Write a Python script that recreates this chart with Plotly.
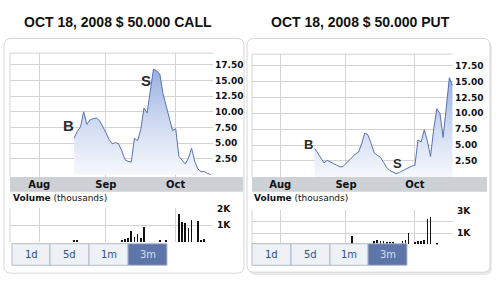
import plotly.graph_objects as go

W, H = 499, 282

# ---------------- data ----------------
call_dates = ["2008-08-18", "2008-08-19", "2008-08-20", "2008-08-21", "2008-08-22",
              "2008-08-25", "2008-08-26", "2008-08-27", "2008-08-28", "2008-08-29",
              "2008-09-01", "2008-09-02", "2008-09-03", "2008-09-04", "2008-09-05",
              "2008-09-08", "2008-09-09", "2008-09-10", "2008-09-11", "2008-09-12",
              "2008-09-15", "2008-09-16", "2008-09-17", "2008-09-18", "2008-09-19",
              "2008-09-22", "2008-09-23", "2008-09-24", "2008-09-25", "2008-09-26",
              "2008-09-29", "2008-09-30", "2008-10-01", "2008-10-02", "2008-10-03",
              "2008-10-06", "2008-10-07", "2008-10-08", "2008-10-09", "2008-10-10",
              "2008-10-13", "2008-10-14", "2008-10-15", "2008-10-16"]
call_price = [5.8, 6.9, 7.6, 10.0, 8.0,
              8.7, 8.9, 9.0, 8.6, 7.7,
              6.7, 5.6, 4.9, 5.1, 4.9,
              3.8, 2.4, 2.1, 2.0, 5.8,
              5.4, 7.2, 10.6, 9.8, 13.5,
              16.8, 16.5, 16.0, 12.9, 11.0,
              9.0, 7.0, 7.3, 2.9, 2.3,
              1.7, 2.6, 4.2, 2.1, 0.9,
              0.45, 0.5, 0.2, 0.02]

put_dates = ["2008-08-18", "2008-08-19", "2008-08-20", "2008-08-21", "2008-08-22",
             "2008-08-25", "2008-08-26", "2008-08-27", "2008-08-28", "2008-08-29",
             "2008-09-01", "2008-09-02", "2008-09-03", "2008-09-04", "2008-09-05",
             "2008-09-08", "2008-09-09", "2008-09-10", "2008-09-11", "2008-09-12",
             "2008-09-15", "2008-09-16", "2008-09-17", "2008-09-18", "2008-09-19",
             "2008-09-22", "2008-09-23", "2008-09-24", "2008-09-25", "2008-09-26",
             "2008-09-29", "2008-09-30", "2008-10-01", "2008-10-02", "2008-10-03",
             "2008-10-06", "2008-10-07", "2008-10-08", "2008-10-09", "2008-10-10",
             "2008-10-13", "2008-10-14", "2008-10-15", "2008-10-16", "2008-10-17"]
put_price = [4.5, 3.7, 3.0, 2.2, 2.6,
             2.4, 2.1, 1.85, 1.6, 1.6,
             2.1, 2.6, 3.1, 3.6, 3.9,
             5.2, 6.9, 6.6, 5.3, 3.8,
             3.4, 3.1, 2.3, 1.5, 1.0,
             0.8, 0.5, 0.7, 0.95, 1.2,
             1.45, 1.7, 1.8, 5.8, 5.5,
             7.4, 5.6, 3.2, 7.5, 10.7,
             10.0, 6.2, 10.8, 15.6, 14.4]

call_vol_dates = ["2008-08-18", "2008-08-19", "2008-09-08", "2008-09-09", "2008-09-10",
                  "2008-09-11", "2008-09-12", "2008-09-15", "2008-09-16", "2008-09-17",
                  "2008-09-24", "2008-09-26", "2008-10-02", "2008-10-03", "2008-10-06",
                  "2008-10-07", "2008-10-08", "2008-10-10", "2008-10-13", "2008-10-14"]
call_vol = [0.05, 0.08, 0.1, 0.15, 0.2,
            0.65, 0.3, 0.45, 0.25, 0.9,
            0.05, 0.05, 1.65, 1.2, 1.1,
            0.85, 1.3, 1.25, 0.1, 0.15]

put_vol_dates = ["2008-09-03", "2008-09-12", "2008-09-15", "2008-09-16", "2008-09-17",
                 "2008-09-18", "2008-09-19", "2008-09-22", "2008-09-25", "2008-09-26",
                 "2008-09-29", "2008-10-01", "2008-10-02", "2008-10-03", "2008-10-06",
                 "2008-10-07", "2008-10-08", "2008-10-10"]
put_vol = [0.7, 0.25, 0.35, 0.3, 0.3,
           0.2, 0.2, 0.2, 0.3, 0.35,
           0.95, 0.2, 0.3, 0.25, 0.35,
           2.2, 2.4, 0.05]

month_ticks = ["2008-08-01", "2008-09-01", "2008-10-01"]
month_labels = ["Aug", "Sep", "Oct"]
price_ticks = [2.5, 5.0, 7.5, 10.0, 12.5, 15.0, 17.5]
call_vol_ticks = [1, 2]
call_vol_labels = ["1K", "2K"]
put_vol_ticks = [1, 2, 3]
put_vol_labels = ["1K", "", "3K"]

titles = ["OCT 18, 2008 $ 50.000 CALL", "OCT 18, 2008 $ 50.000 PUT"]
buttons = ["1d", "5d", "1m", "3m"]

call_marks = [("B", "2008-08-14 06:00", 7.8), ("S", "2008-09-17 12:00", 15.0)]
put_marks = [("B", "2008-08-14 00:00", 5.15), ("S", "2008-09-23 10:00", 2.05)]

# ---------------- helpers ----------------
def xd(l, r):
    return [l / W, r / W]

def yd(t, b):
    return [1 - b / H, 1 - t / H]

def px(x):
    return x / W

def py(y):
    return 1 - y / H

def rrect(x0, y0, x1, y1, r):
    rx, ry = r / W, r / H
    X0, X1, Y0, Y1 = px(x0), px(x1), py(y0), py(y1)
    return (f"M {X0+rx},{Y0} L {X1-rx},{Y0} Q {X1},{Y0} {X1},{Y0-ry} "
            f"L {X1},{Y1+ry} Q {X1},{Y1} {X1-rx},{Y1} L {X0+rx},{Y1} "
            f"Q {X0},{Y1} {X0},{Y1+ry} L {X0},{Y0-ry} Q {X0},{Y0} {X0+rx},{Y0} Z")

GRID = "#d3d3d3"
LINE = "#5873b3"
FILL = dict(type="vertical", colorscale=[[0, "#f6f8fd"], [0.5, "#cfdaf1"], [1, "#98afe0"]])
FONT = "DejaVu Sans"
rb = [dict(bounds=["sat", "mon"])]

fig = go.Figure()

# price traces
fig.add_trace(go.Scatter(x=call_dates, y=call_price, mode="lines", fill="tozeroy",
                         line=dict(color=LINE, width=1), fillgradient=FILL,
                         xaxis="x", yaxis="y", hoverinfo="skip"))
fig.add_trace(go.Scatter(x=put_dates, y=put_price, mode="lines", fill="tozeroy",
                         line=dict(color=LINE, width=1), fillgradient=FILL,
                         xaxis="x2", yaxis="y2", hoverinfo="skip"))
# volume traces
fig.add_trace(go.Bar(x=call_vol_dates, y=call_vol, marker=dict(color="#111111", line_width=0),
                     width=20000000, xaxis="x3", yaxis="y3", hoverinfo="skip"))
fig.add_trace(go.Bar(x=put_vol_dates, y=put_vol, marker=dict(color="#111111", line_width=0),
                     width=20000000, xaxis="x4", yaxis="y4", hoverinfo="skip"))

left_range = ["2008-07-18 19:00", "2008-10-16 18:00"]
right_range = ["2008-07-21 00:00", "2008-10-17 04:00"]

def xaxis_cfg(dom, rng, anchor, labels):
    return dict(domain=dom, anchor=anchor, type="date", range=rng, rangebreaks=rb,
                tickmode="array", tickvals=month_ticks, ticktext=month_labels,
                showticklabels=labels, ticks="", showgrid=True, gridcolor=GRID, gridwidth=1,
                zeroline=False, showline=False, fixedrange=True,
                tickfont=dict(family=FONT, size=10, color="#111111", weight="bold"))

def yaxis_cfg(dom, rng, anchor, tv, tt, standoff):
    return dict(domain=dom, anchor=anchor, range=rng, side="right",
                tickmode="array", tickvals=tv, ticktext=tt, ticks="",
                showgrid=True, gridcolor=GRID, gridwidth=1, zeroline=False, showline=False,
                ticklabelstandoff=standoff,
                tickfont=dict(family=FONT, size=9, color="#111111", weight="bold"))

price_text = [f"{v:.2f}" for v in price_ticks]

fig.update_layout(
    width=W, height=H, margin=dict(l=0, r=0, t=0, b=0), autosize=False,
    paper_bgcolor="white", plot_bgcolor="rgba(0,0,0,0)", showlegend=False,
    bargap=0,
    xaxis=xaxis_cfg(xd(10, 213), left_range, "y", True),
    yaxis=yaxis_cfg(yd(49, 175), [-0.36, 19.33], "x", price_ticks, price_text, 1),
    xaxis2=xaxis_cfg(xd(252, 453), right_range, "y2", True),
    yaxis2=yaxis_cfg(yd(50, 175), [0, 19.3], "x2", price_ticks, price_text, 1),
    xaxis3=xaxis_cfg(xd(10, 213), left_range, "y3", False),
    yaxis3=yaxis_cfg(yd(207, 241.3), [0, 2.02], "x3", call_vol_ticks, call_vol_labels, 3),
    xaxis4=xaxis_cfg(xd(252, 453), right_range, "y4", False),
    yaxis4=yaxis_cfg(yd(209, 243.8), [0, 3.03], "x4", put_vol_ticks, put_vol_labels, 3),
)

shapes = []
# panel shadow + boxes
shapes.append(dict(type="path", path=rrect(249, 37, 492, 275, 7), xref="paper", yref="paper",
                   fillcolor="#e9e9e9", line=dict(width=0), layer="below"))
shapes.append(dict(type="path", path=rrect(4, 34, 244, 273, 7), xref="paper", yref="paper",
                   fillcolor="white", line=dict(color="#d6d6d6", width=1), layer="below"))
shapes.append(dict(type="path", path=rrect(247, 34, 490, 272, 7), xref="paper", yref="paper",
                   fillcolor="white", line=dict(color="#d6d6d6", width=1), layer="below"))
# gray date bands
for (l, r) in [(10, 243), (252, 487)]:
    shapes.append(dict(type="rect", xref="paper", yref="paper", x0=px(l), x1=px(r),
                       y0=py(190), y1=py(175), fillcolor="#cdd0d5", line=dict(width=0),
                       layer="below"))
# frames: top + left lines of plots
for xa, ya in [("x", "y"), ("x2", "y2"), ("x3", "y3"), ("x4", "y4")]:
    shapes.append(dict(type="line", xref=f"{xa} domain", yref=f"{ya} domain",
                       x0=0, x1=0, y0=0, y1=1, line=dict(color=GRID, width=1)))
for xa, ya in [("x", "y"), ("x2", "y2")]:
    shapes.append(dict(type="line", xref=f"{xa} domain", yref=f"{ya} domain",
                       x0=0, x1=1, y0=1, y1=1, line=dict(color=GRID, width=1)))

annotations = []
# buttons
for left, edges in [(True, [12, 50, 89, 128, 167]), (False, [252, 291, 330, 368, 407])]:
    for i, lab in enumerate(buttons):
        sel = lab == "3m"
        shapes.append(dict(type="rect", xref="paper", yref="paper",
                           x0=px(edges[i]), x1=px(edges[i + 1]), y0=py(265), y1=py(243),
                           fillcolor="#5d75a8" if sel else "#eef1f5",
                           line=dict(color="#b3bcc8", width=1)))
        annotations.append(dict(text=lab, xref="paper", yref="paper",
                                x=px((edges[i] + edges[i + 1]) / 2), y=py(254),
                                showarrow=False, xanchor="center", yanchor="middle",
                                font=dict(family=FONT, size=10,
                                          color="#d6deee" if sel else "#2f4f8f")))

# titles
for t, xc in zip(titles, [118, 360]):
    annotations.append(dict(text=t, xref="paper", yref="paper", x=px(xc), y=py(17.5),
                            showarrow=False, xanchor="center", yanchor="middle",
                            font=dict(family="Liberation Sans", size=14, color="#111111",
                                      weight="bold")))
# volume labels
for xl in [11, 252]:
    annotations.append(dict(text="<b>Volume</b> (thousands)", xref="paper", yref="paper",
                            x=px(xl), y=py(196.5), showarrow=False, xanchor="left",
                            yanchor="middle", font=dict(family=FONT, size=9, color="#111111")))
# B / S marks
for marks, xa, ya, sz in [(call_marks, "x", "y", 15), (put_marks, "x2", "y2", 13)]:
    for lab, d, v in marks:
        annotations.append(dict(text=lab, xref=xa, yref=ya, x=d, y=v, showarrow=False,
                                xanchor="center", yanchor="middle",
                                font=dict(family="Liberation Sans", size=sz, color="#2a2a2a",
                                          weight="bold")))

fig.update_layout(shapes=shapes, annotations=annotations)
fig.write_html("out.html")
